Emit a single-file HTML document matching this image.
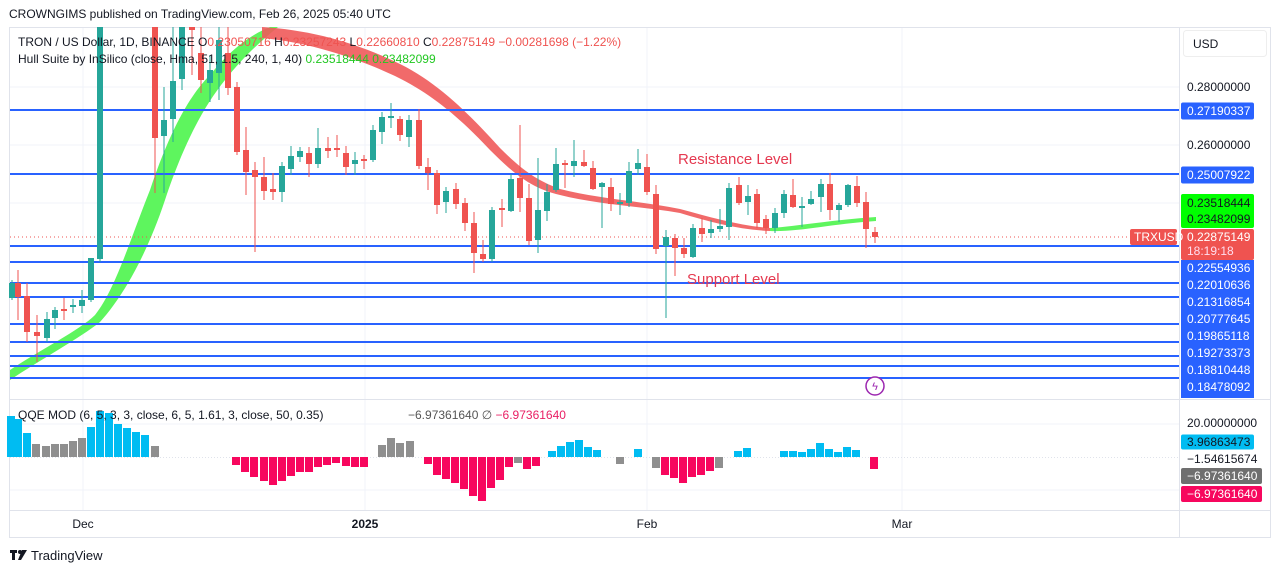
<!DOCTYPE html>
<html><head><meta charset="utf-8"><style>
body{margin:0;background:#fff;width:1281px;height:573px;overflow:hidden;font-family:"Liberation Sans",sans-serif}
svg{position:absolute;left:0;top:0}
text{font-family:"Liberation Sans",sans-serif}
</style></head><body>
<svg id="s" width="1281" height="573" xmlns="http://www.w3.org/2000/svg">
<rect x="0" y="0" width="1281" height="573" fill="#fff"/>
<text x="9" y="18" font-size="12" fill="#131722">CROWNGIMS published on TradingView.com, Feb 26, 2025 05:40 UTC</text>
<rect x="9.5" y="27.5" width="1261" height="510" fill="#fff" stroke="#e0e3eb"/>
<g stroke="#f0f3fa" stroke-width="1">
<line x1="83" y1="28" x2="83" y2="510"/><line x1="365" y1="28" x2="365" y2="510"/><line x1="647" y1="28" x2="647" y2="510"/><line x1="902" y1="28" x2="902" y2="510"/>
<line x1="10" y1="87" x2="1179" y2="87"/><line x1="10" y1="145" x2="1179" y2="145"/><line x1="10" y1="203" x2="1179" y2="203"/>
<line x1="10" y1="424" x2="1179" y2="424"/><line x1="10" y1="490" x2="1179" y2="490"/>
</g>
<line x1="1179.5" y1="28" x2="1179.5" y2="537" stroke="#e0e3eb"/>
<line x1="10" y1="399.5" x2="1270" y2="399.5" stroke="#e0e3eb"/>
<line x1="10" y1="510.5" x2="1270" y2="510.5" stroke="#e0e3eb"/>
<line x1="10" y1="457.5" x2="1179" y2="457.5" stroke="#e0e3eb" stroke-dasharray="1,2"/>
<g id="hull"></g>
<g id="lines" stroke="#2962ff" stroke-width="2"></g>
<line x1="10" y1="237" x2="1130" y2="237" stroke="#ef5350" stroke-dasharray="1,3"/>
<g id="c"></g>
<g id="q"></g>
<text x="678" y="164" font-size="15" fill="#e53950">Resistance Level</text>
<text x="687" y="284" font-size="15" fill="#e53950">Support Level</text>
<text x="18" y="46" font-size="12" fill="#131722">TRON / US Dollar, 1D, BINANCE  <tspan>O</tspan><tspan fill="#ef5350">0.23050716</tspan>  H<tspan fill="#ef5350">0.23257243</tspan>  L<tspan fill="#ef5350">0.22660810</tspan>  C<tspan fill="#ef5350">0.22875149  −0.00281698 (−1.22%)</tspan></text>
<text x="18" y="63" font-size="12" fill="#131722">Hull Suite by InSilico (close, Hma, 51, 1.5, 240, 1, 40)  <tspan fill="#22c822">0.23518444  0.23482099</tspan></text>
<text x="18" y="419" font-size="12" fill="#131722">QQE MOD (6, 5, 3, 3, close, 6, 5, 1.61, 3, close, 50, 0.35)</text>
<text x="408" y="419" font-size="12" fill="#555">−6.97361640  ∅  <tspan fill="#e91e63">−6.97361640</tspan></text>
<circle cx="875" cy="386" r="9" fill="#fff" stroke="#9c27b0" stroke-width="1.5"/>
<text x="875" y="390" font-size="11" fill="#9c27b0" text-anchor="middle">ϟ</text>
<g font-size="12" text-anchor="middle" fill="#131722">
<text x="83" y="528">Dec</text><text x="365" y="528" font-weight="bold">2025</text><text x="647" y="528">Feb</text><text x="902" y="528">Mar</text>
</g>
<rect x="1183.5" y="30.5" width="83" height="26" rx="3" fill="#fff" stroke="#eee"/>
<text x="1193" y="48" font-size="12" fill="#131722">USD</text>
<g id="lab" font-size="12"></g>
<g transform="translate(10,549)"><rect x="0" y="1" width="7" height="3" fill="#131722"/><rect x="2" y="1" width="3" height="10" fill="#131722"/><circle cx="10" cy="3" r="2" fill="#131722"/><polygon points="12,1 17,1 11,11 8,11" fill="#131722"/></g>
<text x="31" y="560" font-size="13" fill="#131722">TradingView</text>
</svg>
<script>
const NS="http://www.w3.org/2000/svg";
function el(p,t,a,txt){const e=document.createElementNS(NS,t);for(const k in a)e.setAttribute(k,a[k]);if(txt)e.textContent=txt;document.getElementById(p).appendChild(e);return e;}
[110,174,246,262,283,297,324,342,356,366,378].forEach(y=>el('lines','line',{x1:10,x2:1179,y1:y,y2:y}));
el('hull','path',{d:"M10,370 C40,350 80,330 95,315 C115,290 130,240 150,190 C170,130 190,95 210,75 C230,50 250,35 270,27 L278,27 C260,42 245,55 225,80 C205,105 185,140 165,200 C145,260 120,300 100,322 C80,338 40,360 10,380 Z",fill:"#5ef55e"});
el('hull','path',{d:"M262,27 C310,30 355,42 400,64 C440,84 470,115 500,148 C520,168 535,180 560,189 C600,199 640,201 680,209 C710,217 740,226 770,228 L770,231 C740,230 710,222 680,213 C640,206 600,205 560,195 C530,188 512,172 490,150 C460,118 432,94 395,76 C350,55 305,42 262,38 Z",fill:"#f05a5a",opacity:"0.9"});
el('hull','path',{d:"M770,228 C800,226 830,220 876,217 L876,221 C830,224 800,232 770,231 Z",fill:"#5ef55e"});
const C=[[12,283,298,280,300,'g'],[18,283,297,270,320,'r'],[27,296,332,283,342,'r'],[37,332,336,315,362,'r'],[47,319,338,312,342,'g'],[55,310,318,307,329,'g'],[64,309,311,298,320,'r'],[73,305,307,299,313,'g'],[82,300,306,290,313,'g'],[91,258,300,258,302,'g'],[100,27,259,27,262,'g'],
[155,27,138,27,193,'r'],[164,120,136,87,193,'g'],[173,81,119,27,142,'g'],[182,27,79,27,90,'g'],[192,27,30,27,75,'r'],[201,53,80,27,93,'r'],[210,70,83,55,102,'g'],[219,40,73,27,100,'g'],[228,53,88,27,95,'r'],[237,87,152,82,155,'r'],[246,150,172,127,195,'r'],[255,170,177,162,252,'r'],[264,177,191,157,200,'r'],[273,189,192,173,200,'r'],[282,166,192,162,202,'g'],[291,156,169,146,175,'g'],[300,151,157,147,162,'g'],[309,153,164,147,177,'r'],[318,148,164,128,168,'g'],[328,148,151,137,158,'r'],[337,148,150,135,157,'r'],[346,153,167,146,175,'r'],[355,160,164,152,175,'g'],[364,159,161,155,169,'r'],[373,130,160,125,162,'g'],[382,117,132,112,144,'g'],[391,116,118,103,128,'g'],[400,119,135,116,141,'r'],[409,120,137,115,147,'g'],[419,120,166,109,169,'r'],[428,167,173,158,190,'r'],[437,173,205,170,214,'r'],[446,191,202,187,213,'g'],
[456,189,204,183,209,'r'],[465,203,223,198,231,'r'],[474,223,253,212,273,'r'],[483,254,259,240,262,'r'],[492,210,259,207,262,'g'],[502,208,210,199,227,'r'],[511,179,211,174,212,'g'],[520,178,198,125,212,'r'],[529,198,241,184,245,'r'],[538,210,240,158,253,'g'],[547,192,211,184,221,'g'],[556,164,190,148,192,'g'],[565,163,165,160,188,'r'],[574,161,166,140,177,'g'],[584,162,166,150,167,'r'],[593,168,189,161,190,'r'],[602,183,187,182,228,'g'],[611,187,204,178,211,'r'],[620,202,204,193,215,'g'],[629,171,203,162,207,'g'],[638,163,169,149,175,'g'],[647,167,192,154,195,'r'],[656,194,249,185,254,'r'],[666,237,246,230,318,'g'],[675,238,248,234,276,'r'],[684,248,254,238,258,'r'],[693,228,257,224,258,'g'],[702,228,234,218,242,'r'],[711,229,233,220,238,'g'],[720,226,229,209,232,'g'],[729,188,227,183,240,'g'],[739,185,203,177,205,'r'],[748,196,202,185,215,'g'],[757,194,223,189,228,'r'],[766,219,228,215,234,'r'],[775,213,228,208,233,'g'],[784,194,213,190,218,'g'],[793,195,207,179,208,'r'],[802,206,208,197,227,'g'],[811,199,204,191,205,'g'],[821,184,197,179,212,'g'],[830,184,210,173,220,'r'],[839,205,210,203,222,'g'],[848,185,205,184,207,'g'],[857,186,203,176,207,'r'],[866,202,229,192,248,'r'],[875,232,237,227,243,'r']];
C.forEach(c=>{const col=c[5]=='g'?'#26a69a':'#ef5350';el('c','line',{x1:c[0],x2:c[0],y1:c[3],y2:c[4],stroke:col,'stroke-width':1});el('c','rect',{x:c[0]-3,y:c[1],width:6,height:Math.max(1,c[2]-c[1]),fill:col});});
const B='#00bcf2',G='#8f8f8f',P='#f7075e';
const Q=[[11,416,B],[18,419,B],[27,433,B],[36,444,G],[46,446,G],[55,444,G],[64,444,G],[73,441,G],[82,438,G],[91,427,B],[100,411,B],[109,413,B],[118,424,B],[127,428,B],[136,432,B],[145,435,B],[155,446,G],
[236,465,P],[245,472,P],[254,477,P],[264,481,P],[273,485,P],[282,481,P],[291,476,P],[300,472,P],[309,472,P],[318,467,P],[327,465,P],[336,463,P],[346,466,P],[355,467,P],[364,467,P],[382,445,G],[391,438,G],[400,443,G],[410,441,G],[428,464,P],[437,475,P],[446,479,P],[455,483,P],[464,489,P],[473,496,P],[482,501,P],[491,488,P],[500,480,P],[509,467,P],[518,463,G],[527,469,P],[536,466,P],[552,451,B],[561,446,B],[570,442,B],[579,440,B],[588,447,B],[597,450,B],[620,464,G],[638,449,B],[656,468,G],[665,475,P],[674,478,P],[683,483,P],[692,477,P],[701,475,P],[710,471,P],[719,468,G],[738,451,B],[747,448,B],[784,451,B],[793,451,B],[802,452,B],[811,449,B],[820,443,B],[829,449,B],[838,452,B],[847,447,B],[856,450,B],[874,469,P]];
Q.forEach(q=>{const y1=Math.min(q[1],457),y2=Math.max(q[1],457);el('q','rect',{x:q[0]-4,y:y1,width:8,height:y2-y1,fill:q[2]});});
function lab(y,t,bg,fg,h,w){if(bg)el('lab','rect',{x:1181,y:y-(h||17)/2,width:w||73,height:h||17,rx:2,fill:bg});el('lab','text',{x:1187,y:y+4,fill:fg},t);}
lab(87,'0.28000000',null,'#131722');lab(111,'0.27190337','#2962ff','#fff');lab(145,'0.26000000',null,'#131722');lab(175,'0.25007922','#2962ff','#fff');
el('lab','rect',{x:1181,y:194,width:73,height:34,rx:2,fill:'#00ff00'});lab(203,'0.23518444',null,'#131722');lab(219,'0.23482099',null,'#131722');
el('lab','rect',{x:1181,y:229,width:73,height:31,rx:2,fill:'#ef5350'});lab(237,'0.22875149',null,'#fff');lab(251,'18:19:18',null,'#fde');
el('lab','rect',{x:1181,y:260,width:73,height:138,fill:'#2962ff'});
['0.22554936','0.22010636','0.21316854','0.20777645','0.19865118','0.19273373','0.18810448','0.18478092'].forEach((t,i)=>lab(268+i*17,t,null,'#fff'));
el('lab','rect',{x:1130,y:229,width:47,height:16,rx:2,fill:'#ef5350'});el('lab','text',{x:1134,y:241,fill:'#fff'},'TRXUSD');
lab(423,'20.00000000',null,'#131722');lab(442,'3.96863473','#00bcf2','#131722',15);lab(459,'−1.54615674',null,'#131722');
lab(476,'−6.97361640','#6f6f6f','#fff',16,81);lab(494,'−6.97361640','#f7075e','#fff',16,81);
</script>
</body></html>
